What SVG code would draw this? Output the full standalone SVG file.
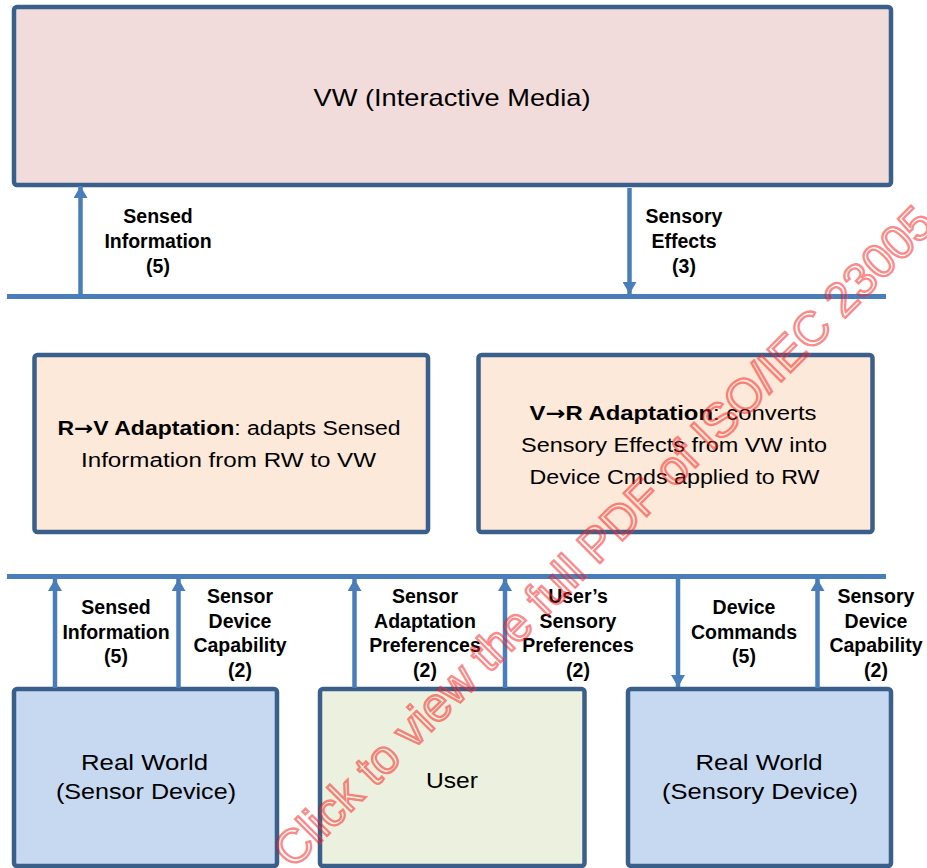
<svg xmlns="http://www.w3.org/2000/svg" width="927" height="868" viewBox="0 0 927 868">
<style>
.box{stroke:#3a5f8b;stroke-width:4.5}
.vw{fill:#f2dcdb}
.ad{fill:#fde9d9}
.rw{fill:#c6d9f1}
.us{fill:#ebf1de}
.bus{stroke:#4a7ebb;stroke-width:5;fill:none}
.arr{stroke:#4a7ebb;stroke-width:4.5;fill:none}
.t{font-family:"Liberation Sans",Arial,sans-serif;fill:#000;text-anchor:middle}
.ar{font-family:"DejaVu Sans",sans-serif;font-weight:bold}
.lbl{font-family:"Liberation Sans",Arial,sans-serif;font-weight:bold;font-size:19.5px;fill:#000;text-anchor:middle}
.wm{font-family:"Liberation Sans",Arial,sans-serif;font-size:47.5px;fill:none;stroke:#ff2020;stroke-opacity:0.55;stroke-width:2.3}
</style>
<defs>
<marker id="ah" markerUnits="userSpaceOnUse" markerWidth="14" markerHeight="14" viewBox="0 0 12 14" refX="12" refY="7" orient="auto">
<path d="M0,0 L12,7 L0,14 Z" fill="#4a7ebb"/>
</marker>
</defs>
<rect width="927" height="868" fill="#ffffff"/>

<g id="vw">
<rect class="box vw" x="14" y="7" width="877" height="178" rx="3"/>
<text class="t" x="452" y="106" font-size="24" textLength="277" lengthAdjust="spacingAndGlyphs">VW (Interactive Media)</text>
</g>

<g id="rv-adaptation">
<rect class="box ad" x="34.5" y="355" width="393.5" height="177" rx="3"/>
<text class="t" x="229" y="434.5" font-size="19.5" textLength="343" lengthAdjust="spacingAndGlyphs"><tspan font-weight="bold">R<tspan class="ar">→</tspan>V Adaptation</tspan>: adapts Sensed</text>
<text class="t" x="228.5" y="466.5" font-size="19.5" textLength="295" lengthAdjust="spacingAndGlyphs">Information from RW to VW</text>
</g>

<g id="vr-adaptation">
<rect class="box ad" x="478.5" y="355" width="394" height="177" rx="3"/>
<text class="t" x="673" y="420" font-size="19.5" textLength="287" lengthAdjust="spacingAndGlyphs"><tspan font-weight="bold">V<tspan class="ar">→</tspan>R Adaptation</tspan>: converts</text>
<text class="t" x="674" y="452" font-size="19.5" textLength="306" lengthAdjust="spacingAndGlyphs">Sensory Effects from VW into</text>
<text class="t" x="674.5" y="484" font-size="19.5" textLength="290" lengthAdjust="spacingAndGlyphs">Device Cmds applied to RW</text>
</g>

<g id="rw-sensor">
<rect class="box rw" x="14" y="689" width="263" height="177" rx="3"/>
<text class="t" x="144.5" y="770" font-size="21.5" textLength="127" lengthAdjust="spacingAndGlyphs">Real World</text>
<text class="t" x="146" y="799" font-size="21.5" textLength="180" lengthAdjust="spacingAndGlyphs">(Sensor Device)</text>
</g>

<g id="user">
<rect class="box us" x="320" y="689" width="264.5" height="177" rx="3"/>
<text class="t" x="452" y="788" font-size="21.5" textLength="52" lengthAdjust="spacingAndGlyphs">User</text>
</g>

<g id="rw-sensory">
<rect class="box rw" x="628" y="689" width="263" height="177" rx="3"/>
<text class="t" x="759" y="770" font-size="21.5" textLength="127" lengthAdjust="spacingAndGlyphs">Real World</text>
<text class="t" x="760" y="799" font-size="21.5" textLength="196" lengthAdjust="spacingAndGlyphs">(Sensory Device)</text>
</g>

<g id="connectors">
<line class="bus" x1="7" y1="296.5" x2="886" y2="296.5"/>
<line class="bus" x1="7" y1="576.5" x2="886" y2="576.5"/>
<line class="arr" x1="80.5" y1="296" x2="80.5" y2="186" marker-end="url(#ah)"/>
<line class="arr" x1="629.5" y1="188" x2="629.5" y2="294" marker-end="url(#ah)"/>
<line class="arr" x1="55" y1="688" x2="55" y2="579" marker-end="url(#ah)"/>
<line class="arr" x1="178.5" y1="688" x2="178.5" y2="579" marker-end="url(#ah)"/>
<line class="arr" x1="354.5" y1="688" x2="354.5" y2="579" marker-end="url(#ah)"/>
<line class="arr" x1="505" y1="688" x2="505" y2="579" marker-end="url(#ah)"/>
<line class="arr" x1="678" y1="578" x2="678" y2="687" marker-end="url(#ah)"/>
<line class="arr" x1="817.5" y1="688" x2="817.5" y2="579" marker-end="url(#ah)"/>
</g>

<g id="labels">
<text class="lbl" x="158" y="222.5">Sensed</text>
<text class="lbl" x="158" y="247.5">Information</text>
<text class="lbl" x="158" y="272.5">(5)</text>
<text class="lbl" x="684" y="222.5">Sensory</text>
<text class="lbl" x="684" y="247.5">Effects</text>
<text class="lbl" x="684" y="272.5">(3)</text>

<text class="lbl" x="116" y="613.5">Sensed</text>
<text class="lbl" x="116" y="638.5">Information</text>
<text class="lbl" x="116" y="663">(5)</text>

<text class="lbl" x="240" y="602.5">Sensor</text>
<text class="lbl" x="240" y="627.5">Device</text>
<text class="lbl" x="240" y="652">Capability</text>
<text class="lbl" x="240" y="676.5">(2)</text>

<text class="lbl" x="425" y="602.5">Sensor</text>
<text class="lbl" x="425" y="627.5">Adaptation</text>
<text class="lbl" x="425" y="652">Preferences</text>
<text class="lbl" x="425" y="676.5">(2)</text>

<text class="lbl" x="578" y="602.5">User’s</text>
<text class="lbl" x="578" y="627.5">Sensory</text>
<text class="lbl" x="578" y="652">Preferences</text>
<text class="lbl" x="578" y="676.5">(2)</text>

<text class="lbl" x="744" y="613.5">Device</text>
<text class="lbl" x="744" y="638.5">Commands</text>
<text class="lbl" x="744" y="663">(5)</text>

<text class="lbl" x="876" y="602.5">Sensory</text>
<text class="lbl" x="876" y="627.5">Device</text>
<text class="lbl" x="876" y="652">Capability</text>
<text class="lbl" x="876" y="676.5">(2)</text>
</g>

<text class="wm" transform="translate(293,870) rotate(-45)" x="0" y="0">Click to view the full PDF of ISO/IEC 23005</text>
</svg>
